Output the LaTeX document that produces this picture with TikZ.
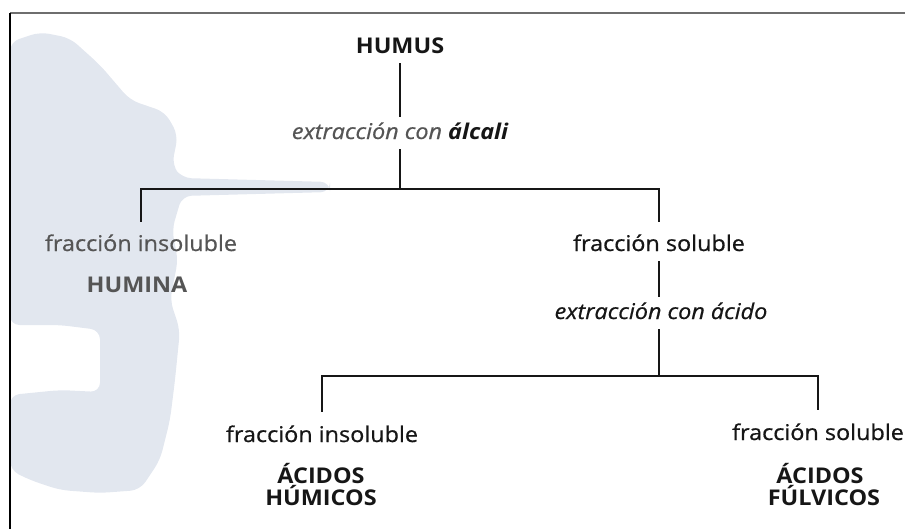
\documentclass[tikz,border=0pt]{standalone}
\usepackage{fontspec}
\setmainfont{Open Sans}[FakeStretch=1.08,
  UprightFeatures={FakeBold=0.7}, ItalicFeatures={FakeBold=0.7}]
\definecolor{ink}{HTML}{161616}
\definecolor{dim}{HTML}{555555}
\definecolor{fog}{HTML}{E2E7EF}
\definecolor{rule}{HTML}{6E6E6E}
\tikzset{
  lbl/.style={anchor=base, inner xsep=0pt, inner ysep=5pt, text height=13.7pt,
    text depth=3.4pt, text=ink, font=\fontsize{18.5}{22}\selectfont},
  ttl/.style={lbl, font=\fontsize{18.5}{22}\selectfont\bfseries},
  lnk/.style={draw=ink, line width=2pt},
}
\begin{document}
\begin{tikzpicture}[x=0.03cm, y=-0.03cm]
    \useasboundingbox (0,0) rectangle (905,529);

    % stain behind the left side
    \fill[fog, rounded corners=8pt] (10,42) -- (40,32) -- (70,38) -- (100,65)
        -- (130,100) -- (165,112) -- (178,135) -- (172,165) -- (182,178)
        -- (330,182) -- (330,192) -- (182,196) -- (172,230) -- (178,260)
        -- (170,300) -- (180,330) -- (175,380) -- (170,420) -- (160,460)
        -- (140,490) -- (100,493) -- (60,490) -- (30,480) -- (10,470)
        -- (10,395) -- (60,390) -- (100,392) -- (100,330) -- (60,325)
        -- (10,325) -- cycle;

    % frame
    \draw[rule, line width=1.6pt] (10,13) -- (905,13);
    \draw[black, line width=1.2pt] (10,13) -- (10,529);

    \coordinate (split1) at (400,189);
    \coordinate (split2) at (659,376);

    \node[ttl] (humus) at (400,53) {HUMUS};
    \node[lbl, text=dim] (alcali) at (400,139)
        {\itshape extracción con \textcolor{ink}{\bfseries álcali}};
    \node[lbl, text=dim] (insol1) at (141,251) {fracción insoluble};
    \node[ttl, text=dim] (humina) at (137,292) {HUMINA};
    \node[lbl] (sol1) at (659,251) {fracción soluble};
    \node[lbl] (acido) at (661,319) {\itshape extracción con ácido};
    \node[lbl] (insol2) at (322,442) {fracción insoluble};
    \node[ttl] (acidos1) at (321,483) {ÁCIDOS};
    \node[ttl] (humicos) at (321,505) {HÚMICOS};
    \node[lbl] (sol2) at (818,440) {fracción soluble};
    \node[ttl] (acidos2) at (820,483) {ÁCIDOS};
    \node[ttl] (fulvicos) at (824,505) {FÚLVICOS};

    \draw[lnk] (humus) -- (alcali);
    \draw[lnk] (alcali) -- (split1);
    \draw[lnk, shorten >=6pt] (split1) -| (insol1);
    \draw[lnk, shorten >=6pt] (split1) -| (sol1);
    \draw[lnk] (sol1) -- (sol1 |- acido.north);
    \draw[lnk] (sol1 |- acido.south) -- (split2);
    \draw[lnk, shorten >=7pt] (split2) -| (insol2);
    \draw[lnk, shorten >=7pt] (split2) -| (sol2);
\end{tikzpicture}
\end{document}
